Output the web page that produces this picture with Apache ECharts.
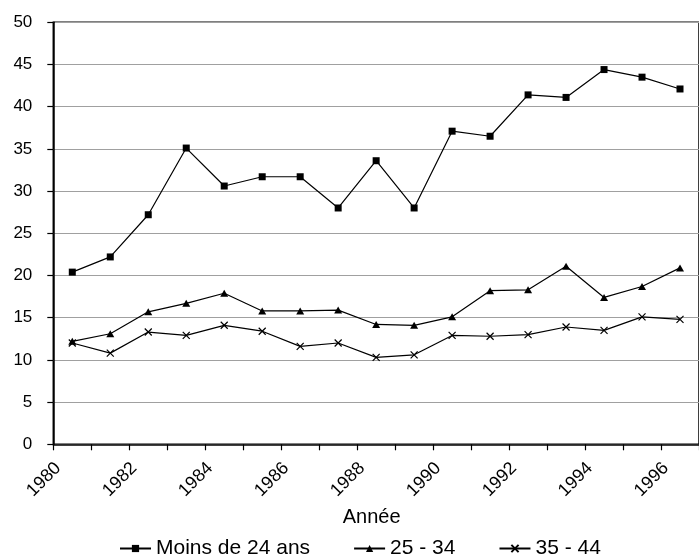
<!DOCTYPE html>
<html>
<head>
<meta charset="utf-8">
<script src="https://cdn.jsdelivr.net/npm/echarts@6/dist/echarts.min.js"></script>
<style>
html,body{margin:0;padding:0;background:#fff;}
#chart{width:699px;height:559px;}
</style>
</head>
<body>
<div id="chart"></div>
<script>
var years = ['1980','1981','1982','1983','1984','1985','1986','1987','1988','1989','1990','1991','1992','1993','1994','1995','1996'];
var moins24 = [20.4,22.2,27.2,35.1,30.6,31.7,31.7,28.0,33.6,28.0,37.1,36.5,41.4,41.1,44.4,43.5,42.1];
var age2534 = [12.2,13.1,15.7,16.7,17.9,15.8,15.8,15.9,14.2,14.1,15.1,18.2,18.3,21.1,17.4,18.7,20.9];
var age3544 = [12.0,10.8,13.3,12.9,14.1,13.4,11.6,12.0,10.3,10.6,12.9,12.8,13.0,13.9,13.5,15.1,14.8];
var seriesNames = ['Moins de 24 ans','25 - 34','35 - 44'];

var FONT = 'Arial, "Liberation Sans", sans-serif';
var chart = echarts.init(document.getElementById('chart'));
function mk(name, data, symbol, size) {
  return {
    name: name, type: 'line', data: data,
    symbol: symbol, symbolSize: size, showSymbol: true,
    lineStyle: {color: '#000', width: 1.2},
    itemStyle: {color: '#000', borderColor: '#000', borderWidth: symbol.indexOf('path') === 0 ? 1.2 : 0},
    emphasis: {disabled: true},
    animation: false
  };
}
chart.setOption({
  animation: false,
  grid: {left: 53.3, top: 22.3, right: -8, bottom: 114.7, show: true, borderColor: '#000', borderWidth: 1.5, backgroundColor: 'transparent'},
  legend: {
    data: seriesNames,
    left: 114, top: 533,
    itemWidth: 31, itemHeight: 9, itemGap: 43,
    textStyle: {fontFamily: FONT, fontSize: 21, color: '#000'},
    selectedMode: false
  },
  xAxis: {
    type: 'category', data: years, boundaryGap: true,
    name: 'Année', nameLocation: 'middle', nameGap: 63,
    nameTextStyle: {fontFamily: FONT, fontSize: 20, color: '#000', padding: [0, 9, 0, 0]},
    axisLine: {lineStyle: {color: '#000', width: 1.5}},
    axisTick: {show: true, interval: 0, length: 6, lineStyle: {color: '#000', width: 1.2}},
    axisLabel: {interval: 1, rotate: 45, margin: 7, padding: [0, 20, 0, 0], fontFamily: FONT, fontSize: 18, color: '#000'},
    splitLine: {show: false}
  },
  yAxis: {
    type: 'value', min: 0, max: 50, interval: 5,
    axisLine: {show: true, lineStyle: {color: '#000', width: 1.5}},
    axisTick: {show: true, length: 6, lineStyle: {color: '#000', width: 1.2}},
    axisLabel: {margin: 21, fontFamily: FONT, fontSize: 17, color: '#000'},
    splitLine: {lineStyle: {color: '#a0a0a0', width: 1.2}}
  },
  series: [
    mk(seriesNames[0], moins24, 'rect', 7),
    mk(seriesNames[1], age2534, 'triangle', [8, 7]),
    mk(seriesNames[2], age3544, 'path://M0,0L10,10M10,0L0,10', 7)
  ]
});
</script>
</body>
</html>
